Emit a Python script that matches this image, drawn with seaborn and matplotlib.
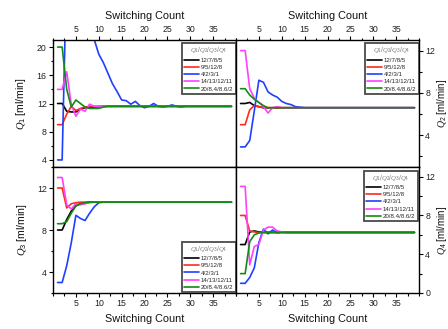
import matplotlib
matplotlib.use("Agg")
import matplotlib.pyplot as plt
from matplotlib.ticker import MultipleLocator, FixedLocator
import seaborn as sns
import pandas as pd

# ---------------- data ----------------
switching = list(range(1, 40))
compositions = ["12/7/8/5", "9/5/12/8", "4/2/3/1", "14/13/12/11", "20/8.4/8.6/2"]
colors = ["#000000", "#ff2a1a", "#1f40ff", "#ff40ff", "#138a13"]

q1_black = [12.0, 12.0, 10.9, 10.8, 10.8, 11.2, 11.4, 11.5, 11.5, 11.55,
            11.6, 11.6, 11.6, 11.6, 11.6, 11.6, 11.6, 11.6, 11.6, 11.6,
            11.6, 11.6, 11.6, 11.6, 11.6, 11.6, 11.6, 11.6, 11.6, 11.6,
            11.6, 11.6, 11.6, 11.6, 11.6, 11.6, 11.6, 11.6, 11.6]
q1_red = [9.0, 9.0, 10.5, 11.6, 11.0, 11.3, 11.5, 11.6, 11.6, 11.6,
          11.6, 11.6, 11.6, 11.6, 11.6, 11.6, 11.6, 11.6, 11.6, 11.6,
          11.6, 11.6, 11.6, 11.6, 11.6, 11.6, 11.6, 11.6, 11.6, 11.6,
          11.6, 11.6, 11.6, 11.6, 11.6, 11.6, 11.6, 11.6, 11.6]
q1_blue = [4.0, 4.0, 32.0, 34.0, 33.0, 30.0, 27.0, 24.0, 21.1, 19.0,
           17.8, 16.3, 14.8, 13.7, 12.5, 12.4, 11.9, 12.3, 11.7, 11.4,
           11.6, 12.0, 11.6, 11.5, 11.6, 11.8, 11.6, 11.5, 11.6, 11.6,
           11.6, 11.6, 11.6, 11.6, 11.6, 11.6, 11.6, 11.6, 11.6]
q1_pink = [14.0, 14.0, 16.5, 11.8, 10.2, 11.2, 10.9, 11.9, 11.6, 11.6,
           11.6, 11.6, 11.6, 11.6, 11.6, 11.6, 11.6, 11.6, 11.6, 11.6,
           11.6, 11.6, 11.6, 11.6, 11.6, 11.6, 11.6, 11.6, 11.6, 11.6,
           11.6, 11.6, 11.6, 11.6, 11.6, 11.6, 11.6, 11.6, 11.6]
q1_green = [20.0, 20.0, 14.0, 11.5, 12.5, 12.0, 11.5, 11.3, 11.3, 11.3,
            11.5, 11.6, 11.6, 11.6, 11.6, 11.6, 11.6, 11.6, 11.6, 11.6,
            11.6, 11.6, 11.6, 11.6, 11.6, 11.6, 11.6, 11.6, 11.6, 11.6,
            11.6, 11.6, 11.6, 11.6, 11.6, 11.6, 11.6, 11.6, 11.6]

q2_black = [7.0, 7.0, 7.1, 6.8, 6.7, 6.6, 6.6, 6.6, 6.6, 6.6,
            6.6, 6.6, 6.6, 6.6, 6.6, 6.6, 6.6, 6.6, 6.6, 6.6,
            6.6, 6.6, 6.6, 6.6, 6.6, 6.6, 6.6, 6.6, 6.6, 6.6,
            6.6, 6.6, 6.6, 6.6, 6.6, 6.6, 6.6, 6.6, 6.6]
q2_red = [5.0, 5.0, 6.4, 6.8, 6.7, 6.6, 6.6, 6.6, 6.6, 6.6,
          6.6, 6.6, 6.6, 6.6, 6.6, 6.6, 6.6, 6.6, 6.6, 6.6,
          6.6, 6.6, 6.6, 6.6, 6.6, 6.6, 6.6, 6.6, 6.6, 6.6,
          6.6, 6.6, 6.6, 6.6, 6.6, 6.6, 6.6, 6.6, 6.6]
q2_blue = [2.9, 2.9, 3.5, 6.3, 9.2, 9.0, 8.1, 7.8, 7.6, 7.2,
           7.0, 6.9, 6.7, 6.65, 6.6, 6.6, 6.6, 6.6, 6.6, 6.6,
           6.6, 6.6, 6.6, 6.6, 6.6, 6.6, 6.6, 6.6, 6.6, 6.6,
           6.6, 6.6, 6.6, 6.6, 6.6, 6.6, 6.6, 6.6, 6.6]
q2_pink = [12.0, 12.0, 8.4, 7.5, 7.1, 6.7, 6.1, 6.6, 6.7, 6.6,
           6.6, 6.6, 6.6, 6.6, 6.6, 6.6, 6.6, 6.6, 6.6, 6.6,
           6.6, 6.6, 6.6, 6.6, 6.6, 6.6, 6.6, 6.6, 6.6, 6.6,
           6.6, 6.6, 6.6, 6.6, 6.6, 6.6, 6.6, 6.6, 6.6]
q2_green = [8.4, 8.4, 7.8, 7.4, 7.1, 6.8, 6.6, 6.6, 6.6, 6.6,
            6.6, 6.6, 6.6, 6.6, 6.6, 6.6, 6.6, 6.6, 6.6, 6.6,
            6.6, 6.6, 6.6, 6.6, 6.6, 6.6, 6.6, 6.6, 6.6, 6.6,
            6.6, 6.6, 6.6, 6.6, 6.6, 6.6, 6.6, 6.6, 6.6]

q3_black = [8.0, 8.0, 9.0, 9.8, 10.3, 10.5, 10.6, 10.65, 10.65, 10.65,
            10.65, 10.65, 10.65, 10.65, 10.65, 10.65, 10.65, 10.65, 10.65, 10.65,
            10.65, 10.65, 10.65, 10.65, 10.65, 10.65, 10.65, 10.65, 10.65, 10.65,
            10.65, 10.65, 10.65, 10.65, 10.65, 10.65, 10.65, 10.65, 10.65]
q3_red = [12.0, 12.0, 10.1, 10.5, 10.6, 10.65, 10.65, 10.65, 10.65, 10.65,
          10.65, 10.65, 10.65, 10.65, 10.65, 10.65, 10.65, 10.65, 10.65, 10.65,
          10.65, 10.65, 10.65, 10.65, 10.65, 10.65, 10.65, 10.65, 10.65, 10.65,
          10.65, 10.65, 10.65, 10.65, 10.65, 10.65, 10.65, 10.65, 10.65]
q3_blue = [3.0, 3.0, 4.6, 6.8, 9.4, 9.1, 8.9, 9.6, 10.2, 10.6,
           10.65, 10.65, 10.65, 10.65, 10.65, 10.65, 10.65, 10.65, 10.65, 10.65,
           10.65, 10.65, 10.65, 10.65, 10.65, 10.65, 10.65, 10.65, 10.65, 10.65,
           10.65, 10.65, 10.65, 10.65, 10.65, 10.65, 10.65, 10.65, 10.65]
q3_pink = [13.0, 13.0, 10.4, 10.0, 10.5, 10.4, 10.5, 10.6, 10.65, 10.65,
           10.65, 10.65, 10.65, 10.65, 10.65, 10.65, 10.65, 10.65, 10.65, 10.65,
           10.65, 10.65, 10.65, 10.65, 10.65, 10.65, 10.65, 10.65, 10.65, 10.65,
           10.65, 10.65, 10.65, 10.65, 10.65, 10.65, 10.65, 10.65, 10.65]
q3_green = [8.6, 8.6, 8.8, 9.6, 10.3, 10.5, 10.6, 10.65, 10.65, 10.65,
            10.65, 10.65, 10.65, 10.65, 10.65, 10.65, 10.65, 10.65, 10.65, 10.65,
            10.65, 10.65, 10.65, 10.65, 10.65, 10.65, 10.65, 10.65, 10.65, 10.65,
            10.65, 10.65, 10.65, 10.65, 10.65, 10.65, 10.65, 10.65, 10.65]

q4_black = [5.0, 5.0, 6.3, 6.4, 6.3, 6.25, 6.25, 6.25, 6.25, 6.25,
            6.25, 6.25, 6.25, 6.25, 6.25, 6.25, 6.25, 6.25, 6.25, 6.25,
            6.25, 6.25, 6.25, 6.25, 6.25, 6.25, 6.25, 6.25, 6.25, 6.25,
            6.25, 6.25, 6.25, 6.25, 6.25, 6.25, 6.25, 6.25, 6.25]
q4_red = [8.0, 8.0, 6.4, 6.3, 6.25, 6.25, 6.25, 6.25, 6.25, 6.25,
          6.25, 6.25, 6.25, 6.25, 6.25, 6.25, 6.25, 6.25, 6.25, 6.25,
          6.25, 6.25, 6.25, 6.25, 6.25, 6.25, 6.25, 6.25, 6.25, 6.25,
          6.25, 6.25, 6.25, 6.25, 6.25, 6.25, 6.25, 6.25, 6.25]
q4_blue = [1.0, 1.0, 1.6, 2.6, 5.2, 6.6, 6.1, 6.5, 6.2, 6.3,
           6.25, 6.25, 6.25, 6.25, 6.25, 6.25, 6.25, 6.25, 6.25, 6.25,
           6.25, 6.25, 6.25, 6.25, 6.25, 6.25, 6.25, 6.25, 6.25, 6.25,
           6.25, 6.25, 6.25, 6.25, 6.25, 6.25, 6.25, 6.25, 6.25]
q4_pink = [11.0, 11.0, 2.9, 4.8, 5.0, 6.5, 6.8, 6.8, 6.4, 6.3,
           6.25, 6.25, 6.25, 6.25, 6.25, 6.25, 6.25, 6.25, 6.25, 6.25,
           6.25, 6.25, 6.25, 6.25, 6.25, 6.25, 6.25, 6.25, 6.25, 6.25,
           6.25, 6.25, 6.25, 6.25, 6.25, 6.25, 6.25, 6.25, 6.25]
q4_green = [2.0, 2.0, 5.3, 6.0, 6.2, 6.25, 6.25, 6.25, 6.25, 6.25,
            6.25, 6.25, 6.25, 6.25, 6.25, 6.25, 6.25, 6.25, 6.25, 6.25,
            6.25, 6.25, 6.25, 6.25, 6.25, 6.25, 6.25, 6.25, 6.25, 6.25,
            6.25, 6.25, 6.25, 6.25, 6.25, 6.25, 6.25, 6.25, 6.25]

panels = {
    "Q1": [q1_black, q1_red, q1_blue, q1_pink, q1_green],
    "Q2": [q2_black, q2_red, q2_blue, q2_pink, q2_green],
    "Q3": [q3_black, q3_red, q3_blue, q3_pink, q3_green],
    "Q4": [q4_black, q4_red, q4_blue, q4_pink, q4_green],
}
ylabels = {"Q1": r"$Q_1$ [ml/min]", "Q2": r"$Q_2$ [ml/min]",
           "Q3": r"$Q_3$ [ml/min]", "Q4": r"$Q_4$ [ml/min]"}
ylims = {"Q1": (3, 21), "Q2": (1, 13), "Q3": (2, 14), "Q4": (0, 13)}
yticks = {"Q1": [4, 8, 12, 16, 20], "Q2": [4, 8, 12], "Q3": [4, 8, 12], "Q4": [0, 4, 8, 12]}
xticks = [5, 10, 15, 20, 25, 30, 35]

# ---------------- style ----------------
sns.set_theme(style="ticks")
plt.rcParams["font.family"] = ["Liberation Sans", "DejaVu Sans"]
plt.rcParams["mathtext.fontset"] = "custom"
plt.rcParams["mathtext.it"] = "Liberation Serif:italic"
plt.rcParams["mathtext.rm"] = "Liberation Sans"

W, H = 448, 329
fig = plt.figure(figsize=(W / 100, H / 100), dpi=100)

L, M, R = 53, 236, 419
T, MY, B = 40, 167, 293


def rect(x0, y0, x1, y1):
    return [x0 / W, 1 - y1 / H, (x1 - x0) / W, (y1 - y0) / H]


layout = {
    "Q1": (rect(L, T, M, MY), "top", "left", (0.705, 0.974)),
    "Q2": (rect(M, T, R, MY), "top", "right", (0.705, 0.974)),
    "Q3": (rect(L, MY, M, B), "bottom", "left", (0.705, 0.407)),
    "Q4": (rect(M, MY, R, B), "bottom", "right", (0.700, 0.971)),
}

for key in ["Q1", "Q3", "Q2", "Q4"]:
    pos, xside, yside, legpos = layout[key]
    ax = fig.add_axes(pos)
    rows = []
    for comp, vals in zip(compositions, panels[key]):
        for x, v in zip(switching, vals):
            rows.append({"x": x, "y": v, "comp": comp})
    df = pd.DataFrame(rows)
    sns.lineplot(data=df, x="x", y="y", hue="comp", hue_order=compositions,
                 palette=colors, linewidth=1.2, ax=ax, legend=True)

    ax.set_xlim(0, 40)
    ax.set_ylim(*ylims[key])
    ax.xaxis.set_major_locator(FixedLocator(xticks))
    ax.xaxis.set_minor_locator(MultipleLocator(2.5))
    ax.yaxis.set_major_locator(FixedLocator(yticks[key]))
    ax.yaxis.set_minor_locator(MultipleLocator(2))

    for sp in ax.spines.values():
        sp.set_visible(True)
        sp.set_linewidth(1.0)
        sp.set_color("black")

    if xside == "top":
        ax.xaxis.tick_top()
        ax.xaxis.set_label_position("top")
    else:
        ax.xaxis.tick_bottom()
    if yside == "right":
        ax.yaxis.tick_right()
        ax.yaxis.set_label_position("right")
    else:
        ax.yaxis.tick_left()

    ax.tick_params(which="major", direction="out", length=3, width=0.8,
                   labelsize=6.3, pad=1.5, color="black", labelcolor="#222222")
    ax.tick_params(which="minor", direction="out", length=1.8, width=0.8, color="black")

    ax.set_xlabel("Switching Count", fontsize=7.8, labelpad=4, color="#111111")
    if yside == "left":
        ax.set_ylabel(ylabels[key], fontsize=7.6, color="#111111", labelpad=6)
    else:
        ax.set_ylabel(ylabels[key], fontsize=7.0, color="#111111", rotation=90)
        ax.yaxis.set_label_coords(1.085, 0.5)

    handles, labels = ax.get_legend_handles_labels()
    leg = ax.legend(handles, labels, title=r"$Q_1/Q_2/Q_3/Q_4$",
                    loc="upper left", bbox_to_anchor=legpos,
                    fontsize=4.4, title_fontsize=4.8, frameon=True, fancybox=False,
                    edgecolor="#4a4a4a", framealpha=1, borderpad=0.35,
                    labelspacing=0.32, handlelength=2.4, handletextpad=0.35,
                    borderaxespad=0)
    leg.get_frame().set_linewidth(1.3)
    leg.get_title().set_color("#777777")
    for lh in leg.get_lines():
        lh.set_linewidth(1.2)
    for a in leg.findobj():
        a.set_clip_path(ax.patch)

fig.savefig("out.png", dpi=100)
